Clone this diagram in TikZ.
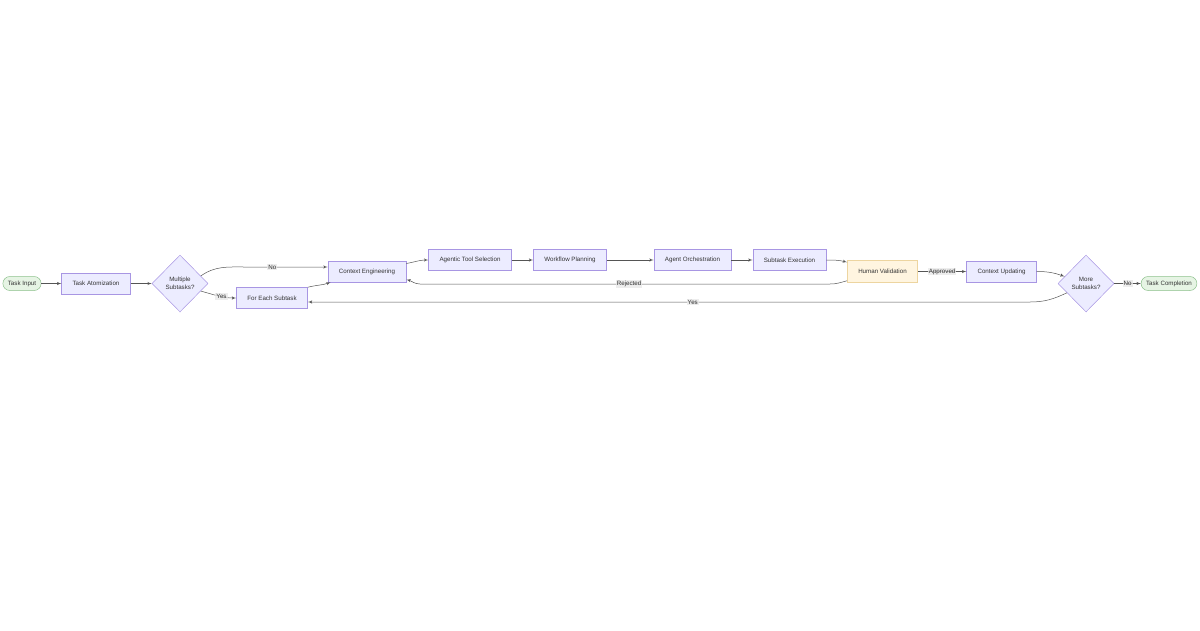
\documentclass[tikz,border=0pt]{standalone}
\usepackage{fontspec}
\setmainfont{Liberation Sans}
\usetikzlibrary{arrows,shapes.geometric}

\definecolor{boxfill}{HTML}{ECECFF}
\definecolor{boxline}{HTML}{A896E3}
\definecolor{termfill}{HTML}{E6F4E4}
\definecolor{termline}{HTML}{8CC08C}
\definecolor{humanfill}{HTML}{FFF5E0}
\definecolor{humanline}{HTML}{EDD5A0}
\definecolor{ink}{HTML}{333333}
\definecolor{wire}{HTML}{555555}
\definecolor{lblfill}{HTML}{E8E8E8}

\begin{document}
\begin{tikzpicture}[->,>=latex',x=1pt,y=-1pt,line width=0.5pt,draw=wire,text=ink,
    font=\fontsize{6.2}{7.6}\selectfont, align=center]

    \tikzstyle{box}=[rectangle,draw=boxline,fill=boxfill,line width=0.5pt,minimum height=21pt,inner xsep=11pt]
    \tikzstyle{human}=[box,draw=humanline,fill=humanfill,minimum height=22pt]
    \tikzstyle{term}=[rectangle,rounded corners=7pt,draw=termline,fill=termfill,line width=0.5pt,minimum height=14pt,inner xsep=5pt]
    \tikzstyle{decision}=[diamond,draw=boxline,fill=boxfill,line width=0.5pt,minimum width=56pt,minimum height=57pt,inner sep=0pt]
    \tikzstyle{lbl}=[fill=lblfill,fill opacity=0.8,text opacity=1,inner sep=1pt]

    \useasboundingbox (0,0) rectangle (1200,630);

    \node[term]     (0)  at (22,283.5)    {Task Input};
    \node[box]      (1)  at (96,283.5)    {Task Atomization};
    \node[decision] (2)  at (180,283.5)   {Multiple\\Subtasks?};
    \node[box]      (3)  at (272,298)     {For Each Subtask};
    \node[box]      (4)  at (367,271.5)   {Context Engineering};
    \node[box]      (5)  at (470,260)     {Agentic Tool Selection};
    \node[box]      (6)  at (570,260)     {Workflow Planning};
    \node[box]      (7)  at (692.5,260)   {Agent Orchestration};
    \node[box]      (8)  at (789.5,260)   {Subtask Execution};
    \node[human]    (9)  at (882.5,271.5) {Human Validation};
    \node[box]      (10) at (1001.5,271.5){Context Updating};
    \node[decision] (11) at (1086,283.5)  {More\\Subtasks?};
    \node[term]     (12) at (1169,283.5)  {Task Completion};

    \path (0) edge (1)
          (1) edge (2)
          (5) edge (6)
          (6) edge (7)
          (7) edge (8)
          (9) edge node[lbl] {Approved} (10)
          (11) edge node[lbl] {No} (12);

    % curved connectors
    \draw (2.20) to[out=35,in=180] (245,267) -- node[lbl,pos=0.33] {No} ([yshift=4.5pt]4.west);
    \draw (2.-20) to[out=-15,in=180] node[lbl,pos=0.6] {Yes} (3.west);
    \draw (3.north east) to[out=15,in=200] ([xshift=3pt]4.south west);
    \draw ([yshift=8pt]4.east) to[out=10,in=180] (5.west);
    \draw (8.east) to[out=0,in=165] ([yshift=-2pt]9.north west);
    \draw ([yshift=2pt]9.south west) to[out=195,in=0] (830,284) -- node[lbl,pos=0.49] {Rejected} (420,284)
          to[out=180,in=-15] ([yshift=-8pt]4.east);
    \draw (10.east) to[out=0,in=160] (11.162);
    \draw (11.206) to[out=205,in=0] (1030,302) -- node[lbl,pos=0.467] {Yes} ([yshift=-4pt]3.east);
\end{tikzpicture}
\end{document}
